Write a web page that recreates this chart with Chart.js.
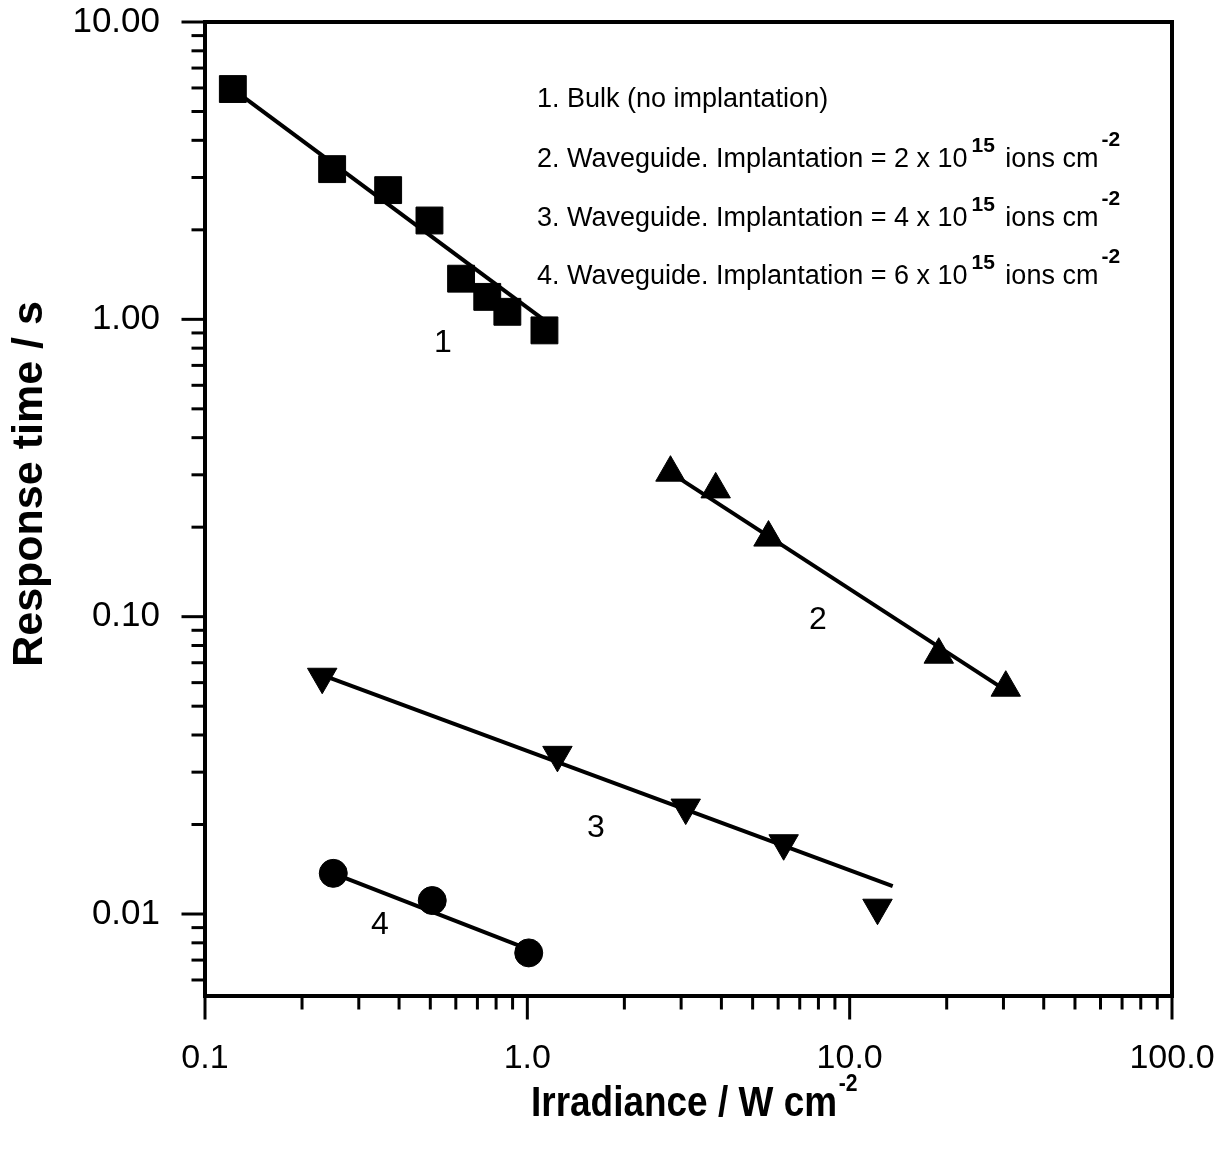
<!DOCTYPE html>
<html>
<head>
<meta charset="utf-8">
<script src="https://cdn.jsdelivr.net/npm/chart.js@4"></script>
<style>
  body { margin: 0; background: #fff; }
  canvas { display: block; }
</style>
</head>
<body>
<canvas id="chart" width="1224" height="1152"></canvas>
<script>
// DATA
var bulkX = [0.122, 0.248, 0.37, 0.497, 0.623, 0.751, 0.867, 1.13]
var bulkY = [5.95, 3.2, 2.72, 2.15, 1.37, 1.19, 1.06, 0.918]
var wg2X = [2.78, 3.84, 5.6, 18.9, 30.5]
var wg2Y = [0.305, 0.268, 0.1845, 0.0745, 0.0577]
var wg4X = [0.231, 1.24, 3.1, 6.24, 12.2]
var wg4Y = [0.0628, 0.0343, 0.0228, 0.0173, 0.0105]
var wg6X = [0.25, 0.507, 1.01]
var wg6Y = [0.0137, 0.0111, 0.0074]

// fitted lines, two end points each
var fit1X = [0.122, 1.153]
var fit1Y = [5.95, 0.977]
var fit2X = [2.78, 30.5]
var fit2Y = [0.305, 0.0565]
var fit3X = [0.228, 13.6]
var fit3Y = [0.064, 0.0124]
var fit4X = [0.25, 1.01]
var fit4Y = [0.0137, 0.0076]

var xTicks = [0.1, 1, 10, 100]
var yTicks = [0.01, 0.1, 1, 10]
var xMin = 0.1, xMax = 100
var yMin = 0.0053, yMax = 10

var legendLines = [
  ['1. Bulk (no implantation)'],
  ['2. Waveguide. Implantation = 2 x 10', '15', ' ions cm', '-2'],
  ['3. Waveguide. Implantation = 4 x 10', '15', ' ions cm', '-2'],
  ['4. Waveguide. Implantation = 6 x 10', '15', ' ions cm', '-2']
]
var curveLabels = ['1', '2', '3', '4']

var FONT = "'Liberation Sans', Arial, Helvetica, sans-serif"
var black = '#000'

function pts(xs, ys) {
  return xs.map(function (x, i) { return {x: x, y: ys[i]} })
}

function markers(label, xs, ys, style, r, rot) {
  return {
    label: label, data: pts(xs, ys), pointStyle: style, pointRadius: r,
    pointRotation: rot || 0, backgroundColor: black, borderColor: black,
    borderWidth: 1, showLine: false, order: 1
  }
}

function fit(xs, ys) {
  return {
    data: pts(xs, ys), showLine: true, borderColor: black, borderWidth: 4,
    pointRadius: 0, order: 2
  }
}

function logRange(lo, hi) {
  var out = []
  for (var d = -4; d <= 3; d++) {
    for (var k = 1; k <= 9; k++) {
      var v = k * Math.pow(10, d)
      if (v >= lo * 0.999 && v <= hi * 1.001) out.push({v: v, major: k === 1})
    }
  }
  return out
}

function noPad(s) {
  s.paddingTop = 0
  s.paddingBottom = 0
  s.paddingLeft = 0
  s.paddingRight = 0
}

var decorations = {
  id: 'decorations',
  afterDraw: function (chart) {
    var ctx = chart.ctx, a = chart.chartArea
    var xs = chart.scales.x, ys = chart.scales.y
    ctx.save()
    ctx.strokeStyle = black
    ctx.fillStyle = black
    ctx.lineCap = 'square'

    // frame
    ctx.lineWidth = 4
    ctx.strokeRect(a.left, a.top, a.right - a.left, a.bottom - a.top)

    // tick marks
    ctx.lineWidth = 3
    logRange(yMin, yMax).forEach(function (t) {
      var py = ys.getPixelForValue(t.v)
      ctx.beginPath()
      ctx.moveTo(a.left, py)
      ctx.lineTo(a.left - (t.major ? 22 : 12), py)
      ctx.stroke()
    })
    logRange(xMin, xMax).forEach(function (t) {
      var px = xs.getPixelForValue(t.v)
      ctx.beginPath()
      ctx.moveTo(px, a.bottom)
      ctx.lineTo(px, a.bottom + (t.major ? 22 : 12))
      ctx.stroke()
    })

    // legend text
    ctx.textBaseline = 'middle'
    ctx.textAlign = 'left'
    var ly = [100, 160, 219, 277]
    legendLines.forEach(function (parts, i) {
      var x = 537, y = ly[i]
      ctx.font = '27px ' + FONT
      ctx.fillText(parts[0], x, y)
      if (parts.length > 1) {
        x += ctx.measureText(parts[0]).width + 4
        ctx.font = 'bold 21px ' + FONT
        ctx.fillText(parts[1], x, y - 14)
        x += ctx.measureText(parts[1]).width + 3
        ctx.font = '27px ' + FONT
        ctx.fillText(parts[2], x, y)
        x += ctx.measureText(parts[2]).width + 3
        ctx.font = 'bold 21px ' + FONT
        ctx.fillText(parts[3], x, y - 20)
      }
    })

    // curve numbers
    ctx.font = '32px ' + FONT
    ctx.textAlign = 'center'
    var numPix = [[443, 343], [818, 620], [596, 828], [380, 925]]
    curveLabels.forEach(function (s, i) {
      ctx.fillText(s, numPix[i][0], numPix[i][1])
    })

    // axis titles
    ctx.font = 'bold 43px ' + FONT
    ctx.save()
    ctx.translate(30, 484)
    ctx.rotate(-Math.PI / 2)
    ctx.textAlign = 'center'
    ctx.fillText('Response time / s', 0, 0)
    ctx.restore()

    ctx.save()
    ctx.translate(531, 1104)
    ctx.scale(0.88, 1)
    ctx.textAlign = 'left'
    ctx.font = 'bold 42px ' + FONT
    var t = 'Irradiance / W cm'
    ctx.fillText(t, 0, 0)
    var w = ctx.measureText(t).width
    ctx.font = 'bold 24px ' + FONT
    ctx.fillText('-2', w + 2, -20)
    ctx.restore()

    ctx.restore()
  }
}

var chart = new Chart(document.getElementById('chart'), {
  type: 'scatter',
  data: {
    datasets: [
      markers('1', bulkX, bulkY, 'rect', 19),
      markers('2', wg2X, wg2Y, 'triangle', 17),
      markers('3', wg4X, wg4Y, 'triangle', 17, 180),
      markers('4', wg6X, wg6Y, 'circle', 14),
      fit(fit1X, fit1Y),
      fit(fit2X, fit2Y),
      fit(fit3X, fit3Y),
      fit(fit4X, fit4Y)
    ]
  },
  options: {
    responsive: false,
    animation: false,
    devicePixelRatio: 1,
    layout: { padding: { left: 0, top: 22, right: 52, bottom: 0 } },
    plugins: { legend: { display: false }, tooltip: { enabled: false } },
    scales: {
      x: {
        type: 'logarithmic', min: xMin, max: xMax, bounds: 'data',
        grid: { display: false, drawTicks: false },
        border: { display: false },
        afterFit: function (s) { s.height = 156; noPad(s) },
        afterBuildTicks: function (s) {
          s.ticks = xTicks.map(function (v) { return {value: v} })
        },
        ticks: {
          autoSkip: false, maxRotation: 0, padding: 42, color: black,
          font: { family: FONT, size: 34 },
          callback: function (v) { return Number(v).toFixed(1) }
        }
      },
      y: {
        type: 'logarithmic', min: yMin, max: yMax, bounds: 'data',
        grid: { display: false, drawTicks: false },
        border: { display: false },
        afterFit: function (s) { s.width = 205; noPad(s) },
        afterBuildTicks: function (s) {
          s.ticks = yTicks.map(function (v) { return {value: v} })
        },
        ticks: {
          autoSkip: false, padding: 45, color: black,
          font: { family: FONT, size: 35 },
          callback: function (v) { return Number(v).toFixed(2) }
        }
      }
    }
  },
  plugins: [decorations]
})
</script>
</body>
</html>
